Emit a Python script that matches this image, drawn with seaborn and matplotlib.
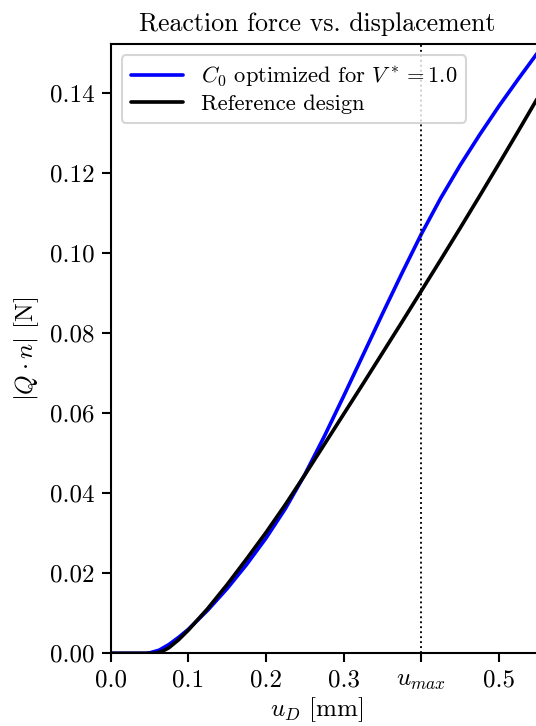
import numpy as np
import pandas as pd
import matplotlib
matplotlib.use("Agg")
import matplotlib.pyplot as plt
import seaborn as sns

# Reaction force, optimized design: displacement [mm] and force [N]
u_opt = [0.0, 0.025, 0.045, 0.05, 0.0625, 0.075, 0.0875, 0.1, 0.125, 0.15,
         0.175, 0.2, 0.225, 0.25, 0.275, 0.3, 0.325, 0.35, 0.375, 0.4, 0.425,
         0.45, 0.475, 0.5, 0.525, 0.55, 0.575]
force_opt = [0.0, 0.0, 0.0, 0.0001, 0.0008, 0.0022, 0.0040, 0.0060, 0.0108,
             0.0162, 0.0222, 0.0288, 0.0362, 0.0447, 0.0542, 0.0643, 0.0746,
             0.0849, 0.0950, 0.1048, 0.1138, 0.1220, 0.1296, 0.1368, 0.1436,
             0.1502, 0.1566]

# Reaction force, reference design
u_ref = [0.0, 0.025, 0.055, 0.06, 0.0675, 0.075, 0.0875, 0.1, 0.125, 0.15,
         0.175, 0.2, 0.225, 0.25, 0.275, 0.3, 0.325, 0.35, 0.375, 0.4, 0.425,
         0.45, 0.475, 0.5, 0.525, 0.55, 0.575]
force_ref = [0.0, 0.0, 0.0, 0.0001, 0.0006, 0.0014, 0.0034, 0.0058, 0.0112,
             0.0172, 0.0236, 0.0302, 0.0372, 0.0446, 0.0522, 0.0598, 0.0674,
             0.0751, 0.0828, 0.0906, 0.0984, 0.1063, 0.1143, 0.1224, 0.1306,
             0.1389, 0.1473]

labels = [r"$C_0$ optimized for $V^* = 1.0$", "Reference design"]
colors = ["blue", "black"]
u_max = 0.4

xticks = [0.0, 0.1, 0.2, 0.3, 0.4, 0.5]
xtick_labels = ["0.0", "0.1", "0.2", "0.3", r"$u_{max}$", "0.5"]
yticks = [0.0, 0.02, 0.04, 0.06, 0.08, 0.10, 0.12, 0.14]

sns.set_style("ticks")
plt.rcParams["font.family"] = ["cmr10"]
plt.rcParams["mathtext.fontset"] = "cm"
plt.rcParams["axes.formatter.use_mathtext"] = True
plt.rcParams["font.size"] = 12
plt.rcParams["axes.linewidth"] = 1.0
plt.rcParams["xtick.major.width"] = 1.0
plt.rcParams["ytick.major.width"] = 1.0
plt.rcParams["xtick.major.size"] = 4.3
plt.rcParams["ytick.major.size"] = 4.3
plt.rcParams["text.color"] = "black"
plt.rcParams["axes.labelcolor"] = "black"
plt.rcParams["xtick.color"] = "black"
plt.rcParams["ytick.color"] = "black"
plt.rcParams["axes.edgecolor"] = "black"

fig = plt.figure(figsize=(536 / 150, 726 / 150), dpi=150)
ax = fig.add_axes([0.2065, 0.1001, 0.8694, 0.8393])

sns.lineplot(x=u_opt, y=force_opt, color=colors[0], linewidth=1.75, label=labels[0], ax=ax)
sns.lineplot(x=u_ref, y=force_ref, color=colors[1], linewidth=1.75, label=labels[1], ax=ax)
ax.axvline(u_max, color="black", linestyle=":", linewidth=0.9)

ax.set_xlim(0, 0.6)
ax.set_ylim(0, 0.1523)
ax.set_xticks(xticks)
ax.set_xticklabels(xtick_labels)
ax.set_yticks(yticks)
ax.set_yticklabels([f"{v:.2f}" for v in yticks])
ax.set_xlabel(r"$u_D$ [mm]")
ax.xaxis.set_label_coords(0.443, -0.069)
ax.set_ylabel(r"$|Q \cdot n|$ [N]")
ax.set_title("Reaction force vs. displacement", fontsize=12.4, x=0.443)
ax.legend(loc="upper left", fontsize=10.8, labelspacing=0.25, handlelength=2.3)

fig.savefig("out.png", dpi=150)
